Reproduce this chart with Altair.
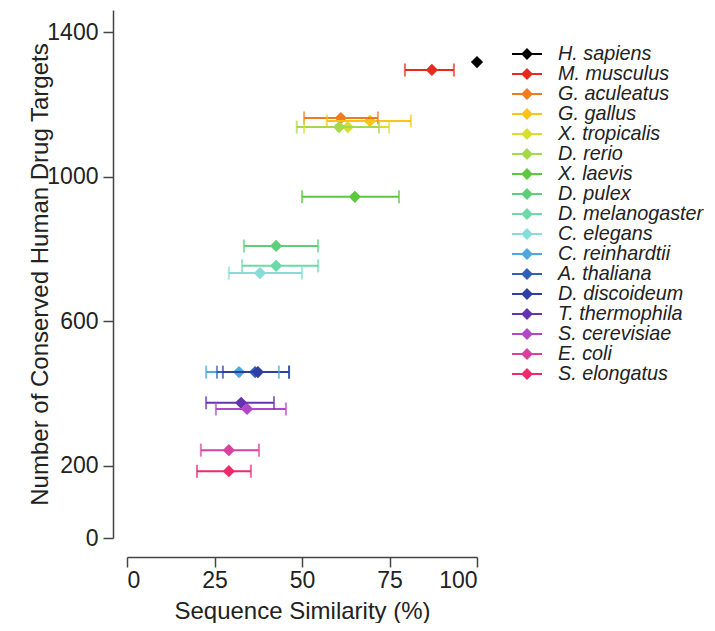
import altair as alt
import pandas as pd

species = ["H. sapiens", "M. musculus", "G. aculeatus", "G. gallus", "X. tropicalis",
           "D. rerio", "X. laevis", "D. pulex", "D. melanogaster", "C. elegans",
           "C. reinhardtii", "A. thaliana", "D. discoideum", "T. thermophila",
           "S. cerevisiae", "E. coli", "S. elongatus"]
similarity = [100, 87.1, 61.1, 69.4, 63.1, 60.6, 65.1, 42.6, 42.6, 38.0,
              32.0, 36.6, 37.4, 32.6, 34.3, 29.1, 29.1]
targets = [1317, 1295, 1162, 1154, 1137, 1137, 944, 808, 753, 733,
           459, 459, 459, 374, 357, 243, 185]
sim_low = [None, 79.4, 50.6, 57.1, 50.6, 48.5, 50.0, 33.4, 32.9, 29.1,
           22.6, 25.7, 27.4, 22.6, 25.4, 21.1, 20.0]
sim_high = [None, 93.4, 71.7, 81.1, 74.9, 72.0, 77.7, 54.6, 54.6, 50.0,
            43.4, 46.3, 46.3, 42.0, 45.4, 37.7, 35.4]
colors = ["#000000", "#e8291c", "#f47a20", "#fbc318", "#d6df30",
          "#a5d84a", "#5cc840", "#5dcf78", "#6ed8a8", "#85ddd5",
          "#4da8de", "#2f5fb8", "#2e3fa3", "#6433b0", "#b147c7",
          "#d9419f", "#ee2a6a"]
y_ticks = [0, 200, 600, 1000, 1400]
x_ticks = [0, 25, 50, 75, 100]

df = pd.DataFrame({"species": species, "sim": similarity, "n": targets,
                   "lo": sim_low, "hi": sim_high})
err = df.dropna(subset=["lo"])
caps = pd.concat([
    err[["species", "n"]].assign(cx=err["lo"]),
    err[["species", "n"]].assign(cx=err["hi"]),
])

FONT = "Liberation Sans"
scale = alt.Scale(domain=species, range=colors)

xs = alt.Scale(domain=[0, 100], nice=False, zero=False)
ys = alt.Scale(domain=[0, 1461], nice=False, zero=False)

xaxis = alt.Axis(values=x_ticks, title="Sequence Similarity (%)", offset=19,
                 tickSize=10, labelPadding=2, titlePadding=7, grid=False)
yaxis = alt.Axis(values=y_ticks, format="d",
                 title="Number of Conserved Human Drug Targets",
                 offset=14, tickSize=10, labelPadding=5, titlePadding=-6, grid=False)

legend = alt.Legend(
    title=None, orient="none", legendX=390, legendY=34,
    symbolType="M-1.667,0L1.667,0M0,-0.5L0.5,0L0,0.5L-0.5,0Z",
    symbolSize=324, symbolStrokeWidth=2, labelOffset=21,
    labelFont=FONT, labelFontSize=19.8, labelFontStyle="italic",
    labelColor="#222222", rowPadding=-3.6, padding=0,
    symbolOpacity=1,
)

color = alt.Color("species:N", scale=scale, legend=legend)

rules = alt.Chart(err).mark_rule(strokeWidth=2).encode(
    x=alt.X("lo:Q", scale=xs, axis=xaxis),
    x2="hi:Q",
    y=alt.Y("n:Q", scale=ys, axis=yaxis),
    color=color,
)

cap_marks = alt.Chart(caps).mark_tick(orient="vertical", size=13, thickness=2).encode(
    x=alt.X("cx:Q", scale=xs),
    y=alt.Y("n:Q", scale=ys),
    color=color,
)

points = alt.Chart(df).mark_point(shape="diamond", filled=True, size=150, opacity=1).encode(
    x=alt.X("sim:Q", scale=xs),
    y=alt.Y("n:Q", scale=ys),
    color=color,
)

chart = alt.layer(points, rules, cap_marks).properties(
    width=350, height=528,
    autosize="none",
    padding={"left": 119, "top": 2, "right": 230, "bottom": 85},
).configure_view(stroke=None).configure_axis(
    labelFont=FONT, titleFont=FONT, labelFontSize=23, titleFontSize=24,
    titleFontWeight="normal", labelColor="#222222", titleColor="#222222",
    domainColor="#444444", tickColor="#444444", domainWidth=1.5, tickWidth=1.5,
)

chart.save("out.html", embed_options={"renderer": "svg", "actions": False})
